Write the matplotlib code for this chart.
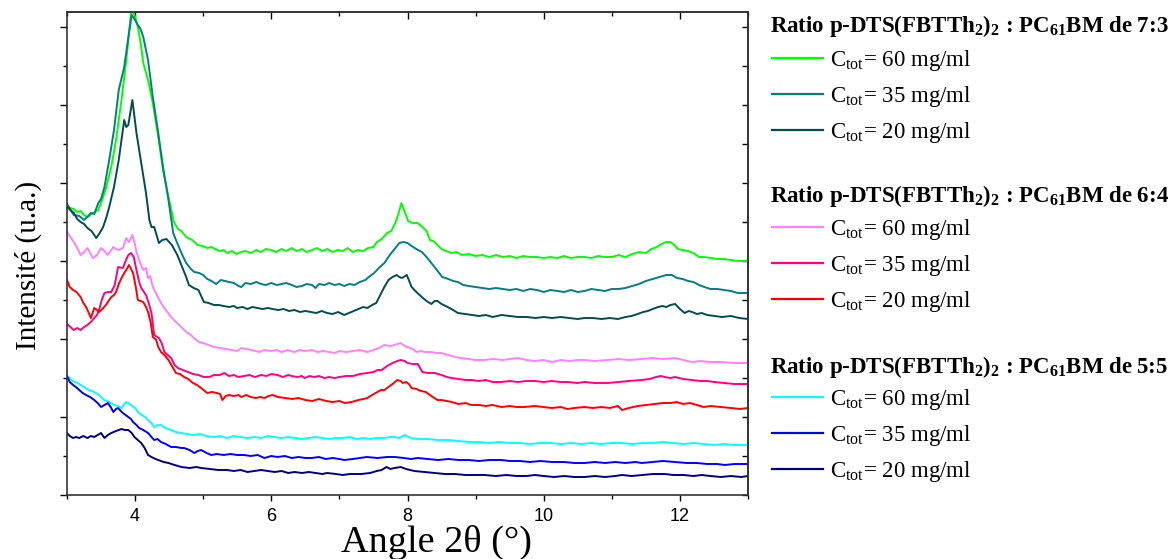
import numpy as np
import matplotlib.pyplot as plt
from matplotlib.ticker import MultipleLocator, NullFormatter

plt.rcParams['mathtext.fontset'] = 'custom'
plt.rcParams['mathtext.rm'] = 'Liberation Serif'
plt.rcParams['mathtext.bf'] = 'Liberation Serif:bold'

# --- Data (intensity in arbitrary units) ---
# Ratio 7:3, C_tot = 60 mg/ml
x_73_60 = [3.0, 3.05, 3.1, 3.15, 3.2, 3.25, 3.3, 3.38, 3.46, 3.52,
           3.57, 3.65, 3.72, 3.8, 3.87, 3.94, 3.97, 4.0, 4.04, 4.08,
           4.12, 4.19, 4.26, 4.34, 4.41, 4.49, 4.57, 4.63, 4.68, 4.75,
           4.84, 4.92, 4.99, 5.06, 5.12, 5.18, 5.24, 5.3, 5.35, 5.42,
           5.49, 5.55, 5.62, 5.7, 5.78, 5.85, 5.92, 6.0, 6.07, 6.15,
           6.22, 6.3, 6.37, 6.45, 6.52, 6.6, 6.67, 6.75, 6.82, 6.9,
           6.97, 7.05, 7.12, 7.2, 7.27, 7.35, 7.42, 7.5, 7.55, 7.62,
           7.7, 7.76, 7.82, 7.87, 7.91, 7.96, 8.01, 8.08, 8.15, 8.22,
           8.28, 8.33, 8.38, 8.44, 8.5, 8.57, 8.65, 8.72, 8.8, 8.9,
           9.0, 9.1, 9.2, 9.3, 9.4, 9.5, 9.6, 9.7, 9.8, 9.9,
           10.0, 10.1, 10.2, 10.3, 10.4, 10.5, 10.6, 10.7, 10.8, 10.9,
           11.0, 11.1, 11.2, 11.3, 11.4, 11.5, 11.58, 11.66, 11.73, 11.8,
           11.86, 11.92, 11.97, 12.04, 12.12, 12.2, 12.28, 12.36, 12.45, 12.55,
           12.65, 12.75, 12.85, 13.0]
y_73_60 = [290, 287, 286, 283, 284, 280, 278, 282, 285, 296,
           306, 328, 355, 395, 435, 482, 483, 478, 468, 452,
           432, 415, 392, 358, 325, 298, 273, 266, 264, 258,
           255, 250, 249, 247, 248, 246, 244, 245, 242, 244,
           241, 243, 244, 242, 245, 243, 246, 245, 243, 246,
           244, 247, 244, 246, 243, 245, 247, 244, 246, 243,
           245, 244, 247, 243, 245, 244, 247, 248, 253, 256,
           262, 264, 272, 282, 292, 283, 274, 272, 272, 268,
           264, 255, 254, 250, 246, 244, 242, 243, 240, 241,
           239, 240, 238, 240, 238, 239, 237, 239, 238, 238,
           237, 238, 237, 239, 237, 238, 238, 237, 239, 238,
           238, 240, 238, 241, 243, 242, 246, 248, 251, 253,
           253, 250, 246, 245, 244, 242, 238, 238, 237, 236,
           236, 235, 234, 234]

# Ratio 7:3, C_tot = 35 mg/ml
x_73_35 = [3.0, 3.05, 3.1, 3.18, 3.25, 3.3, 3.35, 3.4, 3.46, 3.5,
           3.55, 3.62, 3.69, 3.76, 3.84, 3.91, 3.95, 3.99, 4.04, 4.08,
           4.12, 4.19, 4.26, 4.34, 4.41, 4.49, 4.56, 4.6, 4.68, 4.75,
           4.82, 4.87, 4.94, 5.0, 5.06, 5.12, 5.19, 5.26, 5.32, 5.38,
           5.45, 5.52, 5.56, 5.62, 5.7, 5.78, 5.85, 5.92, 6.0, 6.08,
           6.15, 6.22, 6.3, 6.37, 6.45, 6.52, 6.6, 6.65, 6.7, 6.78,
           6.85, 6.93, 7.0, 7.07, 7.15, 7.22, 7.3, 7.38, 7.45, 7.51,
           7.58, 7.66, 7.74, 7.81, 7.88, 7.94, 8.0, 8.06, 8.13, 8.21,
           8.28, 8.35, 8.42, 8.51, 8.6, 8.67, 8.74, 8.82, 8.9, 9.0,
           9.1, 9.2, 9.3, 9.4, 9.5, 9.6, 9.7, 9.8, 9.9, 10.0,
           10.1, 10.2, 10.3, 10.4, 10.5, 10.6, 10.7, 10.8, 10.9, 11.0,
           11.1, 11.2, 11.3, 11.4, 11.5, 11.6, 11.7, 11.8, 11.88, 11.96,
           12.04, 12.12, 12.2, 12.28, 12.36, 12.45, 12.55, 12.65, 12.75, 12.85,
           13.0]
y_73_35 = [291, 285, 280, 279, 275, 278, 282, 281, 292, 296,
           308, 335, 365, 405, 428, 462, 480, 476, 470, 466,
           458, 435, 398, 362, 328, 295, 262, 255, 242, 232,
           226, 223, 222, 220, 216, 214, 211, 215, 214, 213,
           212, 209, 208, 212, 211, 213, 211, 210, 212, 210,
           211, 212, 210, 208, 209, 211, 210, 207, 211, 210,
           212, 210, 211, 209, 211, 210, 213, 215, 219, 222,
           227, 232, 240, 246, 252, 253, 252, 249, 246, 243,
           238, 232, 226, 218, 216, 214, 213, 210, 209, 208,
           207, 206, 207, 206, 205, 206, 204, 206, 205, 203,
           205, 204, 203, 205, 203, 204, 206, 205, 204, 206,
           206, 207, 209, 211, 214, 216, 218, 220, 220, 217,
           216, 214, 213, 210, 208, 206, 206, 205, 204, 202,
           202]

# Ratio 7:3, C_tot = 20 mg/ml
x_73_20 = [3.0, 3.05, 3.1, 3.15, 3.2, 3.25, 3.3, 3.36, 3.43, 3.48,
           3.53, 3.58, 3.62, 3.69, 3.76, 3.8, 3.84, 3.87, 3.9, 3.96,
           4.02, 4.09, 4.16, 4.21, 4.24, 4.28, 4.35, 4.4, 4.46, 4.54,
           4.62, 4.69, 4.75, 4.79, 4.86, 4.93, 5.01, 5.08, 5.16, 5.23,
           5.3, 5.38, 5.45, 5.5, 5.58, 5.65, 5.72, 5.8, 5.87, 5.95,
           6.02, 6.1, 6.18, 6.26, 6.34, 6.42, 6.5, 6.58, 6.66, 6.74,
           6.82, 6.9, 6.98, 7.07, 7.14, 7.21, 7.28, 7.35, 7.41, 7.48,
           7.54, 7.6, 7.66, 7.72, 7.78, 7.84, 7.88, 7.92, 7.99, 8.06,
           8.13, 8.21, 8.28, 8.35, 8.4, 8.44, 8.5, 8.59, 8.67, 8.74,
           8.85, 8.95, 9.05, 9.15, 9.25, 9.38, 9.5, 9.62, 9.75, 9.88,
           10.0, 10.12, 10.25, 10.38, 10.5, 10.6, 10.72, 10.85, 10.97, 11.09,
           11.2, 11.29, 11.38, 11.46, 11.53, 11.6, 11.68, 11.74, 11.8, 11.86,
           11.93, 12.0, 12.07, 12.13, 12.18, 12.25, 12.32, 12.4, 12.51, 12.62,
           12.75, 12.87, 13.0]
y_73_20 = [288, 285, 282, 276, 273, 271, 267, 264, 257, 262,
           268, 278, 288, 308, 335, 355, 375, 368, 370, 395,
           362, 332, 302, 275, 268, 268, 252, 255, 256, 250,
           240, 228, 218, 210, 207, 205, 193, 192, 190, 190,
           189, 188, 189, 187, 188, 186, 188, 187, 186, 187,
           186, 185, 186, 184, 185, 183, 184, 183, 182, 184,
           182, 181, 183, 180, 182, 184, 186, 188, 187, 190,
           192, 200, 208, 215, 218, 220, 218, 217, 220, 208,
           203, 198, 194, 191, 194, 194, 191, 188, 185, 182,
           181, 180, 179, 180, 178, 180, 179, 178, 178, 177,
           178, 177, 178, 177, 176, 177, 177, 176, 177, 176,
           178, 179, 181, 183, 184, 186, 188, 189, 188, 190,
           191, 186, 182, 184, 183, 181, 182, 180, 179, 178,
           179, 177, 176]

# Ratio 6:4, C_tot = 60 mg/ml
x_64_60 = [3.0, 3.05, 3.1, 3.15, 3.2, 3.25, 3.3, 3.34, 3.38, 3.44,
           3.5, 3.55, 3.6, 3.64, 3.68, 3.72, 3.76, 3.82, 3.87, 3.91,
           3.96, 4.0, 4.02, 4.07, 4.12, 4.16, 4.19, 4.22, 4.26, 4.32,
           4.38, 4.45, 4.53, 4.6, 4.68, 4.75, 4.82, 4.88, 4.94, 5.0,
           5.08, 5.16, 5.25, 5.33, 5.43, 5.5, 5.56, 5.63, 5.72, 5.82,
           5.9, 6.0, 6.08, 6.15, 6.24, 6.34, 6.42, 6.5, 6.6, 6.68,
           6.76, 6.85, 6.93, 7.0, 7.1, 7.2, 7.3, 7.41, 7.5, 7.58,
           7.66, 7.75, 7.81, 7.9, 7.96, 8.0, 8.08, 8.13, 8.2, 8.25,
           8.35, 8.42, 8.5, 8.6, 8.7, 8.79, 8.9, 9.0, 9.13, 9.25,
           9.4, 9.5, 9.62, 9.75, 9.87, 10.0, 10.12, 10.25, 10.38, 10.5,
           10.6, 10.75, 10.94, 11.1, 11.25, 11.44, 11.6, 11.75, 11.93, 12.05,
           12.18, 12.3, 12.45, 12.6, 12.8, 13.0]
y_64_60 = [263, 258, 253, 247, 240, 243, 247, 242, 237, 240,
           247, 244, 240, 244, 248, 246, 245, 247, 257, 253,
           260, 250, 243, 233, 225, 227, 217, 219, 208, 200,
           192, 185, 178, 173, 168, 163, 160, 156, 153, 152,
           150, 148, 147, 146, 145, 144, 147, 146, 145, 143,
           145, 144, 145, 143, 145, 143, 145, 144, 145, 143,
           144, 143, 142, 144, 143, 144, 145, 143, 145, 147,
           150, 149, 150, 152, 149, 148, 146, 143, 144, 143,
           143, 142, 142, 140, 138, 137, 136, 135, 135, 136,
           135, 136, 137, 135, 134, 135, 133, 135, 134, 135,
           135, 134, 135, 136, 135, 136, 137, 136, 137, 135,
           133, 134, 133, 133, 132, 132]

# Ratio 6:4, C_tot = 35 mg/ml
x_64_35 = [3.0, 3.05, 3.1, 3.15, 3.2, 3.25, 3.3, 3.35, 3.4, 3.44,
           3.47, 3.51, 3.55, 3.6, 3.65, 3.7, 3.75, 3.82, 3.86, 3.9,
           3.94, 3.98, 4.02, 4.06, 4.09, 4.13, 4.16, 4.2, 4.24, 4.28,
           4.35, 4.39, 4.43, 4.48, 4.53, 4.58, 4.63, 4.7, 4.78, 4.85,
           4.93, 5.01, 5.09, 5.16, 5.24, 5.31, 5.38, 5.45, 5.52, 5.6,
           5.68, 5.76, 5.85, 5.93, 6.0, 6.09, 6.17, 6.25, 6.3, 6.38,
           6.45, 6.49, 6.56, 6.63, 6.7, 6.78, 6.85, 6.93, 7.0, 7.1,
           7.2, 7.3, 7.41, 7.5, 7.56, 7.62, 7.7, 7.78, 7.85, 7.9,
           7.96, 8.0, 8.08, 8.15, 8.22, 8.3, 8.4, 8.5, 8.58, 8.65,
           8.75, 8.85, 8.94, 9.05, 9.15, 9.25, 9.38, 9.5, 9.62, 9.75,
           9.87, 10.0, 10.12, 10.25, 10.35, 10.5, 10.6, 10.75, 10.94, 11.1,
           11.25, 11.44, 11.55, 11.65, 11.72, 11.78, 11.86, 11.93, 12.05, 12.18,
           12.3, 12.4, 12.51, 12.65, 12.8, 13.0]
y_64_35 = [171, 168, 165, 167, 165, 168, 170, 173, 177, 180,
           185, 195, 202, 203, 203, 210, 228, 227, 234, 240,
           242, 238, 225, 213, 207, 203, 200, 192, 182, 160,
           157, 152, 143, 140, 137, 130, 127, 125, 123, 121,
           120, 118, 118, 120, 120, 122, 119, 120, 118, 119,
           120, 118, 120, 119, 121, 120, 118, 120, 119, 118,
           119, 117, 119, 118, 119, 117, 118, 117, 118, 119,
           119, 121, 122, 123, 125, 125, 129, 132, 134, 135,
           134, 132, 131, 131, 123, 122, 122, 120, 118, 117,
           116, 115, 115, 114, 115, 113, 113, 114, 113, 114,
           114, 113, 114, 113, 113, 112, 113, 112, 112, 113,
           114, 115, 116, 118, 119, 118, 117, 118, 116, 115,
           114, 114, 113, 112, 111, 111]

# Ratio 6:4, C_tot = 20 mg/ml
x_64_20 = [3.0, 3.04, 3.09, 3.14, 3.2, 3.24, 3.28, 3.32, 3.35, 3.38,
           3.4, 3.44, 3.47, 3.52, 3.57, 3.61, 3.65, 3.69, 3.72, 3.76,
           3.8, 3.84, 3.87, 3.91, 3.94, 3.97, 4.01, 4.04, 4.08, 4.12,
           4.16, 4.19, 4.23, 4.26, 4.31, 4.34, 4.38, 4.43, 4.49, 4.55,
           4.6, 4.66, 4.72, 4.78, 4.85, 4.91, 4.97, 5.06, 5.13, 5.2,
           5.25, 5.28, 5.33, 5.38, 5.45, 5.52, 5.56, 5.63, 5.7, 5.77,
           5.84, 5.9, 5.96, 6.02, 6.1, 6.2, 6.31, 6.4, 6.5, 6.6,
           6.7, 6.81, 6.9, 7.0, 7.08, 7.18, 7.28, 7.35, 7.41, 7.48,
           7.56, 7.61, 7.66, 7.72, 7.78, 7.85, 7.9, 7.93, 7.98, 8.02,
           8.06, 8.13, 8.2, 8.27, 8.35, 8.44, 8.5, 8.58, 8.65, 8.75,
           8.85, 8.94, 9.05, 9.15, 9.25, 9.38, 9.5, 9.6, 9.72, 9.87,
           10.0, 10.12, 10.25, 10.35, 10.45, 10.6, 10.72, 10.85, 10.97, 11.09,
           11.15, 11.25, 11.38, 11.5, 11.62, 11.75, 11.87, 11.95, 12.05, 12.15,
           12.25, 12.35, 12.45, 12.6, 12.75, 12.88, 13.0]
y_64_20 = [215, 208, 205, 203, 198, 192, 188, 182, 177, 183,
           187, 185, 183, 186, 190, 194, 198, 200, 203, 211,
           217, 222, 225, 230, 226, 222, 208, 195, 194, 193,
           188, 183, 172, 158, 155, 148, 143, 140, 135, 128,
           122, 121, 118, 116, 112, 110, 107, 102, 103, 102,
           101, 95, 99, 100, 99, 100, 98, 100, 98, 97,
           98, 97, 99, 100, 98, 97, 96, 97, 95, 94,
           96, 94, 93, 94, 92, 93, 95, 96, 97, 100,
           103, 105, 105, 108, 111, 115, 114, 112, 113, 111,
           107, 106, 104, 103, 99, 95, 95, 94, 93, 91,
           92, 90, 90, 89, 90, 88, 89, 88, 88, 89,
           88, 87, 88, 86, 87, 88, 87, 88, 87, 89,
           85, 87, 89, 90, 91, 92, 92, 93, 91, 92,
           90, 88, 89, 88, 87, 86, 87]

# Ratio 5:5, C_tot = 60 mg/ml
x_55_60 = [3.0, 3.04, 3.08, 3.13, 3.18, 3.25, 3.32, 3.4, 3.47, 3.55,
           3.62, 3.69, 3.75, 3.8, 3.84, 3.87, 3.92, 3.96, 4.0, 4.04,
           4.1, 4.15, 4.19, 4.24, 4.28, 4.33, 4.38, 4.45, 4.53, 4.6,
           4.68, 4.76, 4.85, 4.95, 5.05, 5.15, 5.25, 5.35, 5.45, 5.55,
           5.65, 5.75, 5.85, 5.95, 6.05, 6.15, 6.25, 6.35, 6.45, 6.55,
           6.65, 6.75, 6.85, 6.95, 7.05, 7.15, 7.25, 7.35, 7.45, 7.55,
           7.65, 7.75, 7.81, 7.88, 7.96, 8.05, 8.15, 8.3, 8.45, 8.6,
           8.75, 8.9, 9.05, 9.2, 9.35, 9.5, 9.65, 9.8, 9.95, 10.1,
           10.25, 10.4, 10.55, 10.7, 10.85, 11.0, 11.15, 11.3, 11.45, 11.6,
           11.75, 11.9, 12.05, 12.2, 12.35, 12.5, 12.65, 12.8, 13.0]
y_55_60 = [119, 117, 114, 113, 111, 108, 105, 103, 100, 95,
           93, 90, 89, 87, 91, 93, 91, 89, 87, 83,
           80, 78, 75, 72, 68, 70, 70, 67, 65, 63,
           62, 61, 60, 61, 59, 58, 59, 57, 59, 58,
           57, 58, 57, 59, 58, 57, 58, 57, 56, 57,
           58, 57, 56, 57, 57, 58, 56, 57, 56, 57,
           57, 58, 58, 57, 60, 57, 56, 56, 55, 55,
           54, 53, 53, 52, 53, 52, 52, 51, 52, 52,
           51, 52, 51, 52, 51, 52, 52, 51, 52, 52,
           53, 52, 51, 52, 51, 50, 51, 50, 50]

# Ratio 5:5, C_tot = 35 mg/ml
x_55_35 = [3.0, 3.04, 3.09, 3.13, 3.18, 3.23, 3.28, 3.34, 3.4, 3.45,
           3.5, 3.55, 3.6, 3.65, 3.68, 3.72, 3.75, 3.79, 3.82, 3.86,
           3.9, 3.94, 3.97, 4.02, 4.06, 4.12, 4.19, 4.24, 4.28, 4.33,
           4.38, 4.45, 4.53, 4.6, 4.68, 4.72, 4.8, 4.87, 4.92, 4.97,
           5.05, 5.12, 5.2, 5.3, 5.4, 5.5, 5.6, 5.7, 5.8, 5.9,
           6.0, 6.09, 6.2, 6.3, 6.4, 6.5, 6.59, 6.7, 6.8, 6.9,
           7.0, 7.07, 7.2, 7.3, 7.4, 7.56, 7.7, 7.81, 7.95, 8.05,
           8.15, 8.3, 8.45, 8.6, 8.75, 8.9, 9.05, 9.2, 9.38, 9.5,
           9.65, 9.8, 9.95, 10.12, 10.3, 10.45, 10.6, 10.75, 10.9, 11.05,
           11.2, 11.35, 11.44, 11.6, 11.75, 11.93, 12.1, 12.25, 12.4, 12.55,
           12.66, 12.8, 13.0]
y_55_35 = [119, 113, 110, 108, 105, 102, 100, 98, 95, 92,
           88, 90, 92, 87, 83, 86, 87, 84, 82, 80,
           78, 76, 73, 70, 67, 65, 62, 58, 55, 56,
           53, 51, 48, 48, 47, 47, 45, 42, 44, 45,
           42, 40, 41, 40, 41, 40, 40, 39, 40, 37,
           39, 38, 39, 37, 38, 37, 37, 38, 36, 37,
           36, 35, 36, 37, 38, 37, 38, 38, 37, 36,
           37, 36, 35, 36, 35, 35, 34, 35, 35, 34,
           34, 33, 34, 33, 33, 32, 32, 33, 32, 33,
           32, 33, 32, 33, 34, 33, 32, 32, 31, 31,
           30, 31, 31]

# Ratio 5:5, C_tot = 20 mg/ml
x_55_20 = [3.0, 3.04, 3.09, 3.13, 3.18, 3.24, 3.3, 3.35, 3.4, 3.45,
           3.5, 3.55, 3.6, 3.65, 3.72, 3.8, 3.85, 3.9, 3.95, 3.99,
           4.04, 4.09, 4.14, 4.19, 4.24, 4.3, 4.34, 4.42, 4.49, 4.58,
           4.68, 4.8, 4.9, 4.97, 5.1, 5.22, 5.35, 5.45, 5.55, 5.65,
           5.75, 5.85, 5.95, 6.05, 6.15, 6.25, 6.34, 6.45, 6.55, 6.65,
           6.75, 6.82, 6.95, 7.05, 7.15, 7.25, 7.32, 7.45, 7.55, 7.62,
           7.69, 7.75, 7.81, 7.9, 7.98, 8.1, 8.25, 8.4, 8.55, 8.7,
           8.85, 9.0, 9.13, 9.3, 9.45, 9.6, 9.75, 9.87, 10.0, 10.15,
           10.3, 10.45, 10.6, 10.75, 10.9, 11.05, 11.15, 11.29, 11.45, 11.6,
           11.78, 11.9, 12.05, 12.2, 12.32, 12.45, 12.6, 12.75, 12.9, 13.0]
y_55_20 = [62, 59, 57, 58, 57, 59, 57, 59, 58, 60,
           62, 57, 60, 62, 64, 66, 65, 65, 62, 58,
           55, 52, 47, 40, 38, 36, 35, 33, 32, 30,
           28, 27, 28, 27, 26, 25, 25, 24, 25, 23,
           24, 25, 24, 23, 24, 22, 23, 22, 23, 22,
           21, 22, 21, 20, 21, 21, 21, 22, 24, 25,
           28, 26, 27, 28, 26, 24, 23, 22, 21, 21,
           20, 20, 20, 19, 20, 19, 19, 20, 19, 18,
           19, 18, 18, 19, 18, 19, 20, 19, 20, 21,
           21, 20, 20, 19, 20, 19, 18, 19, 18, 19]

groups = ['7:3', '6:4', '5:5']
concentrations = [60, 35, 20]
series = [
    [(x_73_60, y_73_60), (x_73_35, y_73_35), (x_73_20, y_73_20)],
    [(x_64_60, y_64_60), (x_64_35, y_64_35), (x_64_20, y_64_20)],
    [(x_55_60, y_55_60), (x_55_35, y_55_35), (x_55_20, y_55_20)],
]
colors = [
    ['#00ff00', '#008080', '#004d4d'],
    ['#ff80ff', '#ff0080', '#ff0000'],
    ['#00ffff', '#0000ff', '#000080'],
]

fig = plt.figure(figsize=(11.76, 5.59), dpi=100)
ax = fig.add_axes([67 / 1176, 64 / 559, 681 / 1176, 483 / 559])

handles = []
for g in range(3):
    hs = []
    for i in range(3):
        xs, ys = series[g][i]
        line, = ax.plot(xs, ys, color=colors[g][i], lw=1.4,
                        label=r'C$_{\mathrm{tot}}$= %d mg/ml' % concentrations[i])
        hs.append(line)
    handles.append(hs)

ax.set_xlim(3, 13)
ax.set_ylim(0, 483)

# bottom / left ticks point outwards
ax.xaxis.set_major_locator(MultipleLocator(2))
ax.xaxis.set_minor_locator(MultipleLocator(1))
ax.yaxis.set_major_locator(MultipleLocator(78))
ax.yaxis.set_minor_locator(MultipleLocator(39))
ax.yaxis.set_major_formatter(NullFormatter())
ax.tick_params(axis='x', which='major', direction='out', length=4.5, width=1, labelsize=13, pad=5)
ax.tick_params(axis='x', which='minor', direction='out', length=3, width=1)
ax.tick_params(axis='y', which='major', direction='out', length=5, width=1)
ax.tick_params(axis='y', which='minor', direction='out', length=3, width=1)
for lab in ax.get_xticklabels():
    lab.set_fontfamily('Liberation Sans')

# top / right ticks point inwards
top = ax.secondary_xaxis('top')
top.xaxis.set_major_locator(MultipleLocator(2))
top.xaxis.set_minor_locator(MultipleLocator(1))
top.tick_params(which='major', direction='in', length=5, width=1, labeltop=False)
top.tick_params(which='minor', direction='in', length=3, width=1)
right = ax.secondary_yaxis('right')
right.yaxis.set_major_locator(MultipleLocator(78))
right.yaxis.set_minor_locator(MultipleLocator(39))
right.tick_params(which='both', direction='in', length=4.5, width=1, labelright=False)

for sp in list(ax.spines.values()) + [top.spines['top'], right.spines['right']]:
    sp.set_linewidth(1.2)
    sp.set_color('#333333')

ax.set_xlabel('Angle 2θ (°)', family='Liberation Serif', fontsize=27.5, va='baseline')
ax.xaxis.set_label_coords(0.543, -0.118)
ax.set_ylabel('Intensité (u.a.)', family='Liberation Serif', fontsize=21, va='center')
ax.yaxis.set_label_coords(-0.057, 0.476)

# three stacked legends, one per ratio, each with a bold header
header_base = [32, 202, 373]
legend_top = [48, 217, 387]
for g in range(3):
    fig.text(770 / 1176, 1 - header_base[g] / 559,
             r'Ratio p-DTS(FBTTh$_{\mathbf{2}}$)$_{\mathbf{2}}$ : PC$_{\mathbf{61}}$BM de ' + groups[g],
             family='Liberation Serif', weight='bold', fontsize=16.5, va='baseline', ha='left')
    leg = fig.legend(handles=handles[g], loc='upper left',
                     bbox_to_anchor=(772 / 1176, 1 - legend_top[g] / 559),
                     frameon=False, prop={'family': 'Liberation Serif', 'size': 16.5},
                     handlelength=2.23, handletextpad=0.3, labelspacing=0.47,
                     borderpad=0, borderaxespad=0)
    for ln in leg.get_lines():
        ln.set_linewidth(1.6)

fig.savefig('out.png', dpi=100)
